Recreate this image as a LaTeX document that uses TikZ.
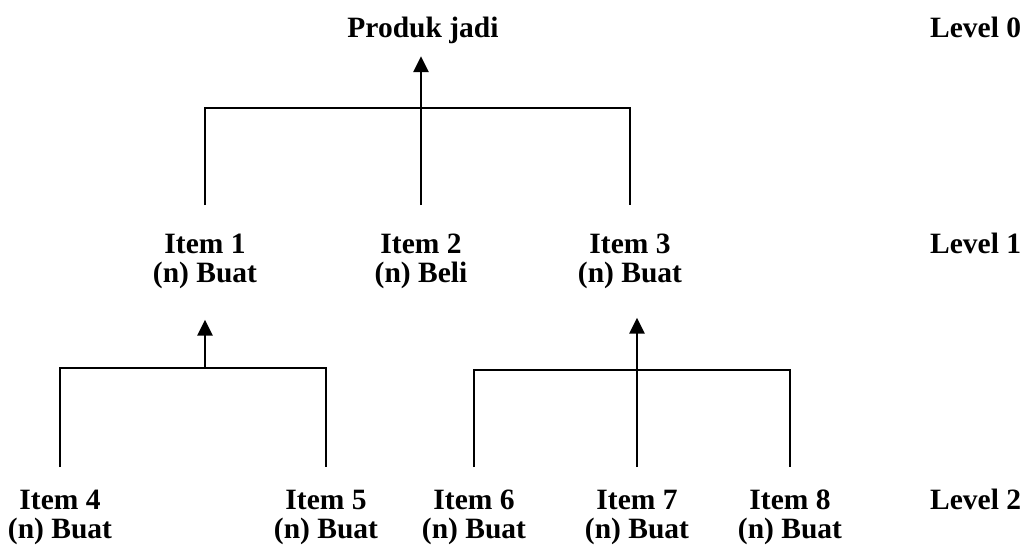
\documentclass[tikz,border=0pt]{standalone}
\usepackage{fontspec}
\setmainfont{Liberation Serif}
\usetikzlibrary{arrows.meta}
% fixed first-line height so that every label's top edge sits alike
\newcommand\toprule{\rule{0pt}{20pt}}
\begin{document}
\begin{tikzpicture}[x=1pt,y=-1pt,
  every node/.style={font=\bfseries\fontsize{29.5}{29}\selectfont, inner sep=0pt, align=center},
  item/.style={anchor=north},
  lvl/.style={anchor=north west},
  link/.style={line width=2.7pt},
  uparrow/.style={line width=2.7pt,-{Triangle[width=15pt,length=16pt]}}]
\useasboundingbox (0,0) rectangle (1030,556);

% level 0
\node[item] (prod) at (423,17) {\toprule Produk jadi};
\node[lvl] (l0) at (930,17) {\toprule Level 0};

% level 1
\node[item] (i1) at (205,233) {\toprule Item 1\\(n) Buat};
\node[item] (i2) at (421,233) {\toprule Item 2\\(n) Beli};
\node[item] (i3) at (630,233) {\toprule Item 3\\(n) Buat};
\node[lvl] (l1) at (930,233) {\toprule Level 1};

% level 2
\node[item] (i4) at (60,489) {\toprule Item 4\\(n) Buat};
\node[item] (i5) at (326,489) {\toprule Item 5\\(n) Buat};
\node[item] (i6) at (474,489) {\toprule Item 6\\(n) Buat};
\node[item] (i7) at (637,489) {\toprule Item 7\\(n) Buat};
\node[item] (i8) at (790,489) {\toprule Item 8\\(n) Buat};
\node[lvl] (l2) at (930,489) {\toprule Level 2};

% junction rails
\coordinate (r0) at (0,108);
\coordinate (r1) at (0,368);
\coordinate (r3) at (0,370);

% level 1 into the finished product
\draw[link] ([yshift=28pt]i1.north) -- (i1.north |- r0) -- (i3.north |- r0) -- ([yshift=28pt]i3.north);
\draw[uparrow, shorten >=12pt] ([yshift=28pt]i2.north) -- (i2.north |- prod.south);

% items 4 and 5 into item 1
\draw[link] ([yshift=22pt]i4.north) -- (i4.north |- r1) -- (i5.north |- r1) -- ([yshift=22pt]i5.north);
\draw[uparrow, shorten >=31pt] (i1.south |- r1) -- (i1.south);

% items 6, 7 and 8 into item 3
\draw[link] ([yshift=22pt]i6.north) -- (i6.north |- r3) -- (i8.north |- r3) -- ([yshift=22pt]i8.north);
\draw[uparrow, shorten >=29pt] ([yshift=22pt]i7.north) -- (i7.north |- i3.south);
\end{tikzpicture}
\end{document}
